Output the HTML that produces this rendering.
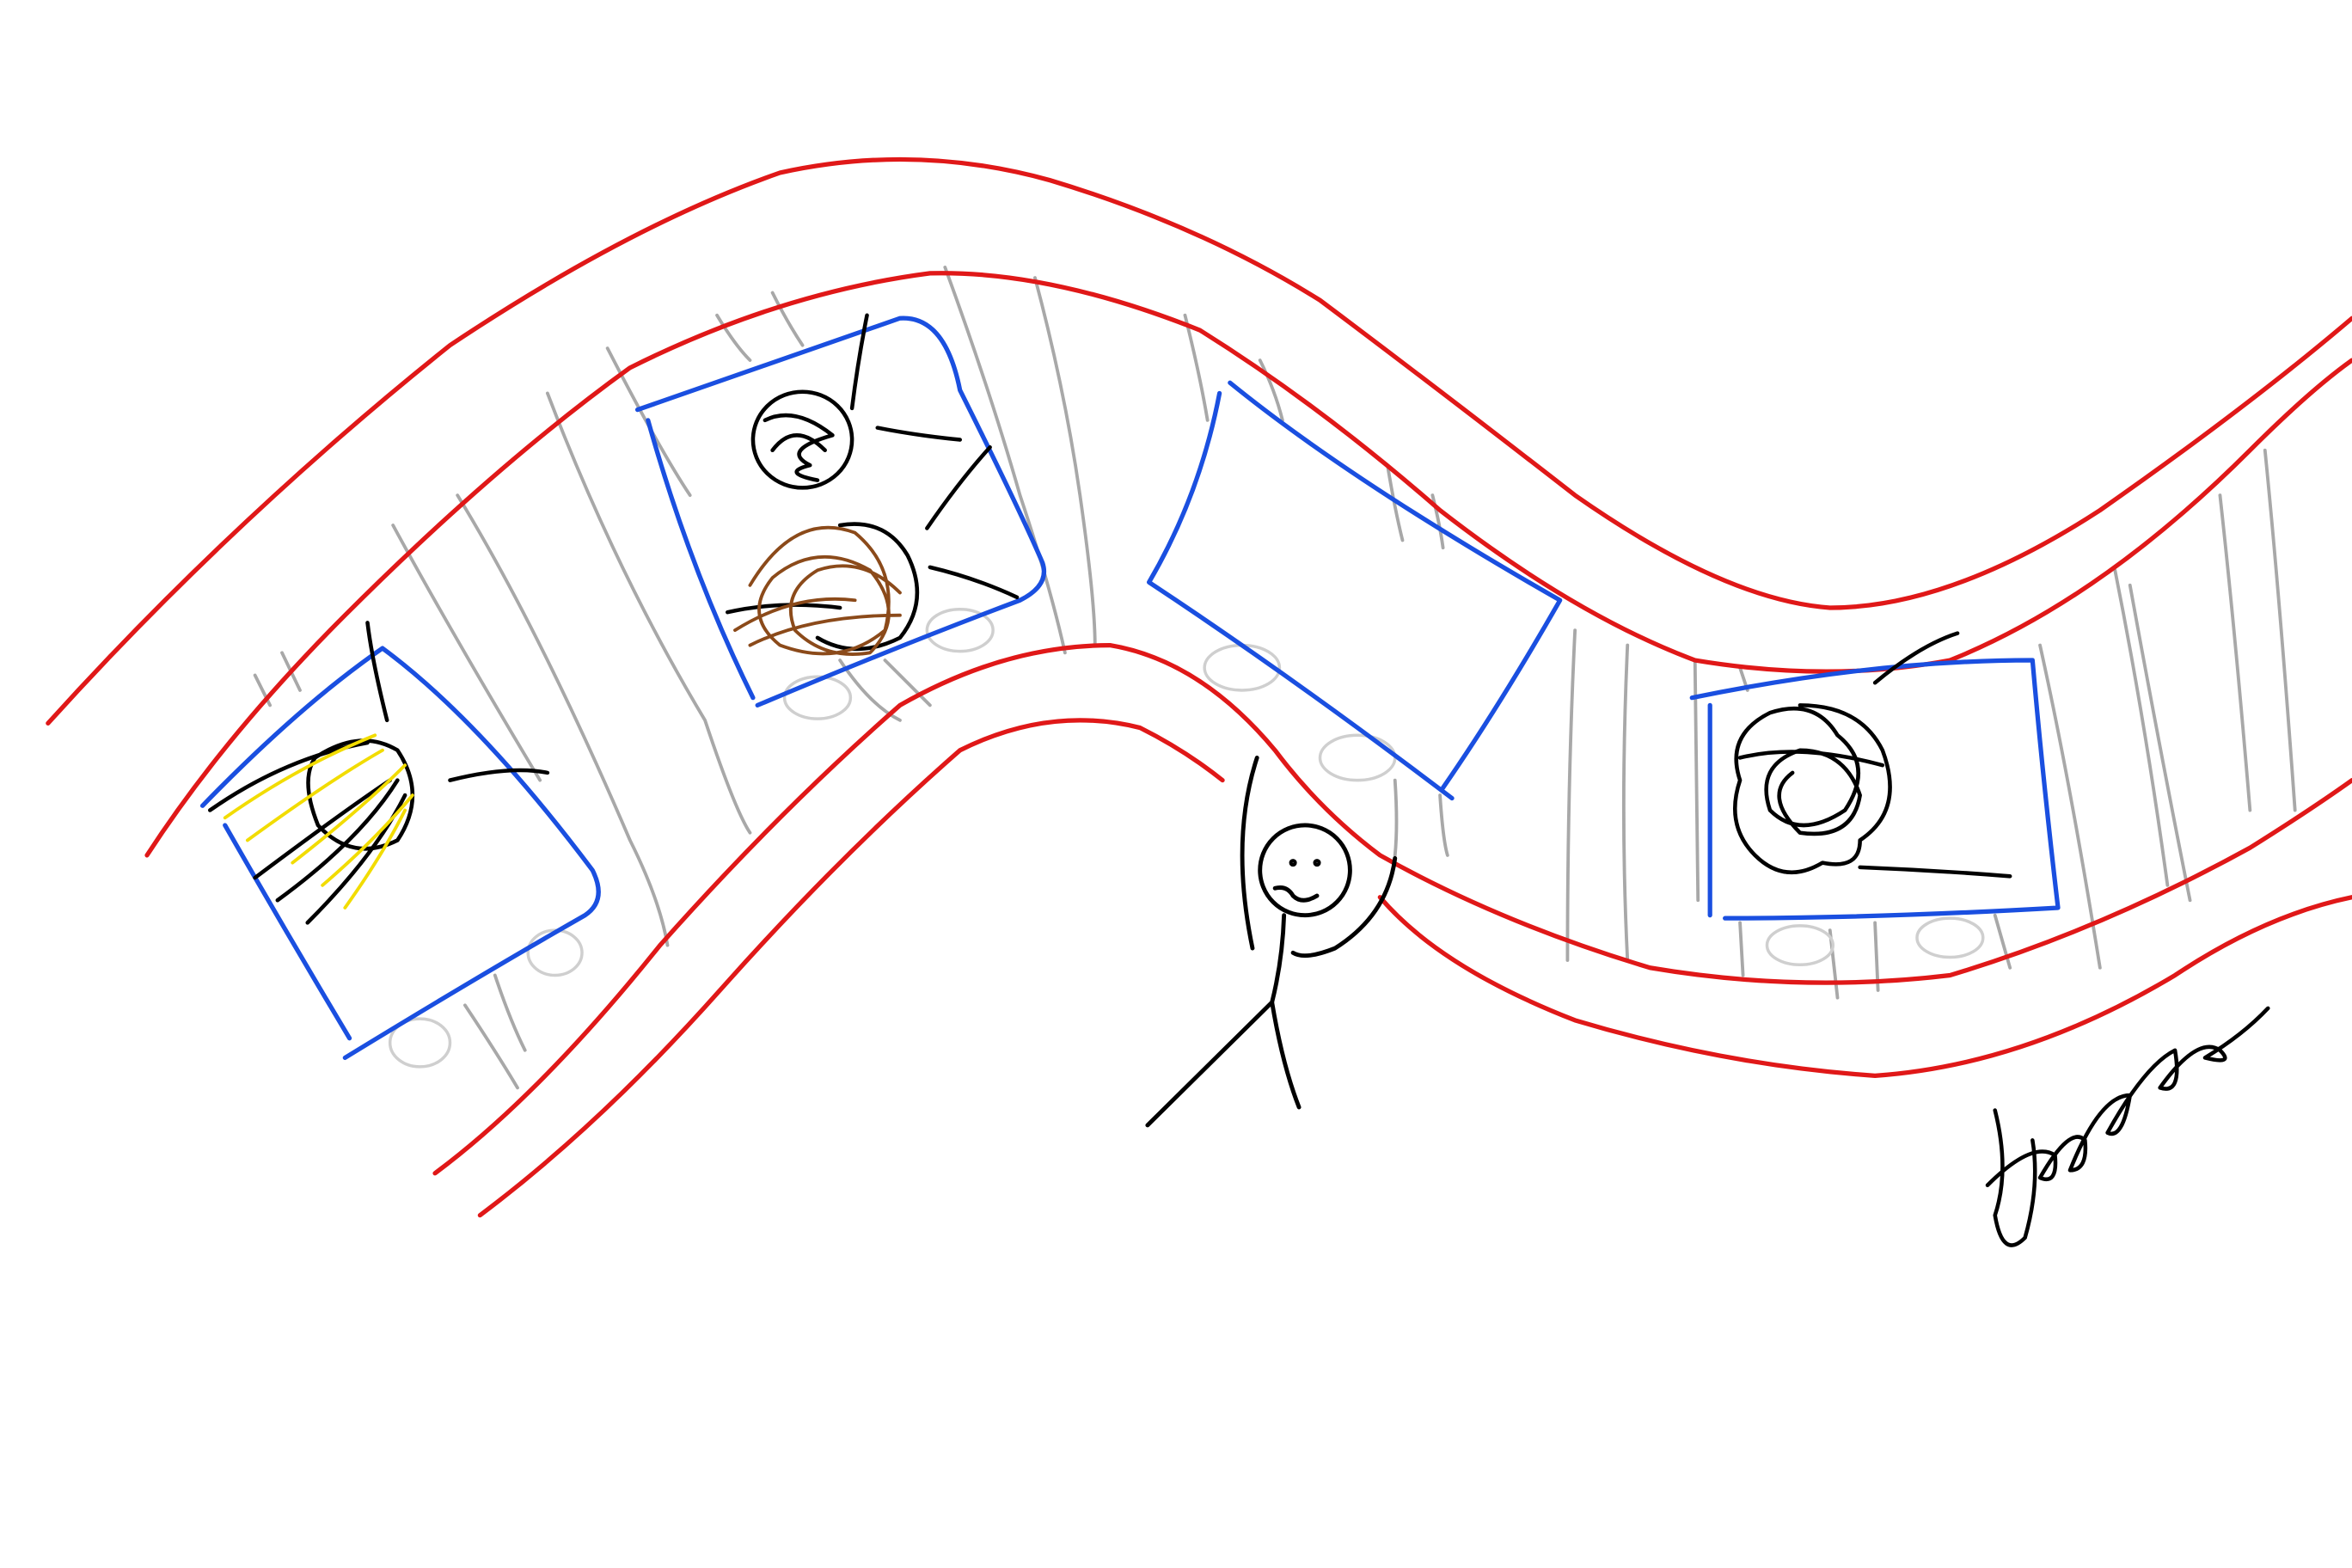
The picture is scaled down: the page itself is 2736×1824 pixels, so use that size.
<!DOCTYPE html>
<html><head><meta charset="utf-8"><style>
html,body{margin:0;padding:0;background:#fff;width:2736px;height:1824px;overflow:hidden}
svg{display:block}
</style></head><body>
<svg width="2736" height="1824" viewBox="0 0 1568 1045" xmlns="http://www.w3.org/2000/svg" fill="none" stroke-linecap="round" stroke-linejoin="round">
<rect width="1568" height="1045" fill="#fff" stroke="none"/>
<!-- gray stripes -->
<g stroke="#a8a8a8" stroke-width="2.2">
<path d="M170 450 L180 470"/><path d="M188 435 L200 460"/>
<path d="M262 350 Q300 420 360 520"/><path d="M305 330 Q360 420 420 560 Q440 600 445 630"/>
<path d="M365 262 Q410 380 470 480 Q490 540 500 555"/><path d="M405 232 Q440 300 460 330"/>
<path d="M478 210 Q490 230 500 240"/><path d="M515 195 Q525 215 535 230"/>
<path d="M630 178 Q660 260 680 330 Q700 390 710 435"/><path d="M690 185 Q710 260 720 330 Q730 400 730 430"/>
<path d="M790 210 Q800 250 805 280"/><path d="M840 240 Q850 260 855 280"/>
<path d="M925 310 Q930 340 935 360"/><path d="M955 330 Q960 350 962 365"/>
<path d="M1050 420 Q1045 520 1045 640"/><path d="M1085 430 Q1080 540 1085 640"/>
<path d="M1130 440 L1132 600"/><path d="M1160 445 L1165 460"/>
<path d="M1360 430 Q1380 520 1400 645"/><path d="M1410 380 Q1430 480 1445 590"/>
<path d="M1420 390 Q1440 500 1460 600"/><path d="M1480 330 Q1490 420 1500 540"/>
<path d="M1510 300 Q1520 400 1530 540"/>
<path d="M330 650 Q340 680 350 700"/><path d="M310 670 Q330 700 345 725"/>
<path d="M930 520 Q932 550 930 570"/><path d="M960 530 Q962 560 965 570"/>
<path d="M1160 615 L1162 650"/><path d="M1220 620 L1225 665"/><path d="M1250 615 L1252 660"/><path d="M1330 610 L1340 645"/>
<path d="M560 440 Q580 470 600 480"/><path d="M590 440 Q610 460 620 470"/>
</g>
<!-- faint ellipses -->
<g stroke="#cfcfcf" stroke-width="2">
<ellipse cx="280" cy="695" rx="20" ry="16"/><ellipse cx="370" cy="635" rx="18" ry="15"/>
<ellipse cx="545" cy="465" rx="22" ry="14"/><ellipse cx="640" cy="420" rx="22" ry="14"/>
<ellipse cx="828" cy="445" rx="25" ry="15"/><ellipse cx="905" cy="505" rx="25" ry="15"/>
<ellipse cx="1200" cy="630" rx="22" ry="13"/><ellipse cx="1300" cy="625" rx="22" ry="13"/>
</g>
<!-- red road -->
<g stroke="#e01818" stroke-width="3">
<path d="M32 482 Q70 440 110 400 Q200 310 300 230 Q420 150 520 115 Q610 95 700 120 Q800 150 880 200 Q960 260 1050 330 Q1150 400 1220 405 Q1300 405 1400 340 Q1500 270 1568 212"/>
<path d="M98 570 Q150 490 230 410 Q330 310 420 245 Q520 195 620 182 Q700 180 800 220 Q880 270 960 340 Q1050 410 1130 440 Q1220 455 1300 440 Q1400 400 1500 300 Q1540 260 1568 240"/>
<path d="M290 782 Q360 730 440 630 Q520 540 600 470 Q670 430 740 430 Q800 440 850 500 Q880 540 920 570 Q1000 615 1100 645 Q1200 662 1300 650 Q1400 620 1500 565 Q1540 540 1568 520"/>
<path d="M320 810 Q400 750 480 660 Q560 570 640 500 Q700 470 760 485 Q790 500 815 520"/>
<path d="M920 598 Q960 645 1050 680 Q1150 710 1250 717 Q1350 710 1450 650 Q1510 610 1568 598"/>
</g>
<!-- blue boxes -->
<g stroke="#1a4fe0" stroke-width="3">
<path d="M135 537 Q200 470 255 432 Q320 480 395 580 Q405 600 390 610 Q320 650 230 705"/>
<path d="M150 550 Q190 620 233 692"/>
<path d="M425 273 Q520 240 600 212 Q630 210 640 260 Q680 340 695 375 Q700 390 680 400 Q600 430 505 470"/>
<path d="M432 280 Q460 380 502 465"/>
<path d="M820 255 Q900 320 1040 400 Q1000 470 962 525"/>
<path d="M813 262 Q800 330 766 388 Q860 450 968 532"/>
<path d="M1128 465 Q1250 440 1355 440 Q1362 520 1372 605 Q1250 612 1150 612"/>
<path d="M1140 470 L1140 610"/>
</g>
<!-- scribbles box 1 -->
<g stroke="#000" stroke-width="2.6">
<path d="M245 415 Q248 440 258 480"/>
<path d="M210 505 Q240 485 265 500 Q285 530 265 560 Q235 575 212 550 Q200 520 210 505 Z"/>
<path d="M300 520 Q340 510 365 515"/>
<path d="M140 540 Q190 505 245 495"/><path d="M170 585 Q230 540 260 520"/><path d="M185 600 Q240 560 265 520"/><path d="M205 615 Q250 570 270 530"/>
</g>
<g stroke="#f2dc00" stroke-width="2.2">
<path d="M150 545 Q200 510 250 490"/><path d="M165 560 Q220 520 255 500"/><path d="M195 575 Q240 540 270 510"/><path d="M215 590 Q250 560 275 530"/><path d="M230 605 Q255 570 270 540"/>
</g>
<!-- box 2 -->
<g stroke="#000" stroke-width="2.6">
<path d="M578 210 Q572 240 568 272"/>
<path d="M585 285 Q610 290 640 293"/><path d="M618 352 Q640 320 660 298"/><path d="M620 378 Q650 385 678 398"/>
<ellipse cx="535" cy="293" rx="33" ry="32"/>
<path d="M510 280 Q530 270 555 290 Q520 300 540 310 Q520 315 545 320 M515 300 Q530 280 550 300"/>
<path d="M560 350 Q590 345 605 370 Q620 400 600 425 Q570 440 545 425"/>
<path d="M485 408 Q520 400 560 405"/>
</g>
<g stroke="#8b4a1a" stroke-width="2.2">
<path d="M500 390 Q530 340 570 355 Q600 380 590 420 Q560 445 520 430 Q495 410 515 385 Q545 360 580 380 Q605 410 580 435 Q550 440 530 420 Q520 395 545 380 Q575 370 600 395"/>
<path d="M490 420 Q530 395 570 400 M500 430 Q540 410 600 410"/>
</g>
<!-- box 4 -->
<g stroke="#000" stroke-width="2.6">
<path d="M1250 455 Q1280 430 1305 422"/>
<path d="M1200 470 Q1240 470 1255 500 Q1270 540 1240 560 Q1240 580 1215 575 Q1190 590 1170 570 Q1150 550 1160 520 Q1150 490 1180 475 Q1210 465 1225 490 Q1250 510 1230 540 Q1200 560 1180 540 Q1170 510 1200 500 Q1230 500 1240 530 Q1235 560 1200 555 Q1175 530 1195 515"/>
<path d="M1160 505 Q1200 495 1255 510"/>
<path d="M1240 578 Q1290 580 1340 584"/>
</g>
<!-- stick figure -->
<g stroke="#000" stroke-width="2.8">
<circle cx="870" cy="580" r="30"/>
<circle cx="862" cy="575" r="1.2"/><circle cx="878" cy="575" r="1.2"/>
<path d="M850 592 Q858 590 862 597 Q868 603 878 597"/>
<path d="M838 505 Q820 560 835 632"/>
<path d="M930 572 Q925 610 890 632 Q870 640 862 635"/>
<path d="M856 610 Q855 640 848 668 L765 750"/>
<path d="M848 668 Q855 710 866 738"/>
</g>
<!-- signature -->
<g stroke="#000" stroke-width="2.6">
<path d="M1330 740 Q1340 780 1330 810 Q1335 840 1350 825 Q1360 790 1355 760"/>
<path d="M1325 790 Q1355 760 1370 770 Q1372 790 1360 785 Q1380 750 1390 760 Q1392 780 1380 780 Q1400 730 1420 730 Q1415 760 1405 755 Q1430 710 1450 700 Q1455 730 1440 725 Q1465 690 1480 700 Q1490 710 1470 705 Q1495 690 1512 672"/>
</g>
</svg>
</body></html>
